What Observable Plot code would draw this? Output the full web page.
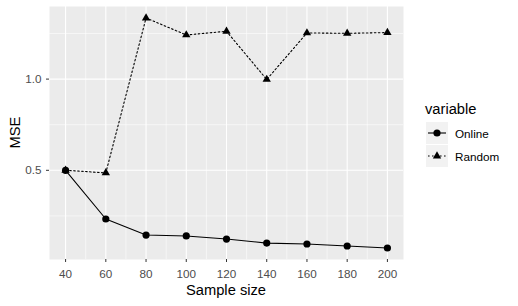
<!DOCTYPE html>
<html>
<head>
<meta charset="utf-8">
<script src="https://cdn.jsdelivr.net/npm/d3@7"></script>
<script src="https://cdn.jsdelivr.net/npm/@observablehq/plot@0.6"></script>
<style>
  html, body { margin: 0; padding: 0; background: #fff; }
  svg { display: block; }
</style>
</head>
<body>
<div id="chart"></div>
<script>
const sampleSizes = [40, 60, 80, 100, 120, 140, 160, 180, 200];
const onlineMSE = [0.500, 0.233, 0.145, 0.140, 0.123, 0.101, 0.096, 0.085, 0.074];
const randomMSE = [0.500, 0.486, 1.335, 1.242, 1.262, 0.998, 1.253, 1.251, 1.255];
const seriesNames = ["Online", "Random"];
const xMajor = [40, 60, 80, 100, 120, 140, 160, 180, 200];
const xMinor = [50, 70, 90, 110, 130, 150, 170, 190];
const yMajor = [0.5, 1.0];
const yMinor = [0.25, 0.75, 1.25];

const online = sampleSizes.map((x, i) => ({x, y: onlineMSE[i], variable: seriesNames[0]}));
const random = sampleSizes.map((x, i) => ({x, y: randomMSE[i], variable: seriesNames[1]}));

const W = 518, H = 306;
const font = "'Liberation Sans', Arial, sans-serif";
const dotR = 3.6, triR = 3.1, dash = "1.6,2.4";

const plot = Plot.plot({
  width: W,
  height: H,
  marginLeft: 49,
  marginRight: 115,
  marginTop: 6,
  marginBottom: 47,
  style: {fontFamily: font, background: "#fff"},
  x: {type: "linear", domain: [32, 208]},
  y: {type: "linear", domain: [0.011, 1.398]},
  marks: [
    Plot.frame({fill: "#EBEBEB", stroke: null}),
    Plot.gridY(yMinor, {stroke: "#fff", strokeWidth: 0.55, strokeOpacity: 1}),
    Plot.gridX(xMinor, {stroke: "#fff", strokeWidth: 0.55, strokeOpacity: 1}),
    Plot.gridY(yMajor, {stroke: "#fff", strokeWidth: 1.1, strokeOpacity: 1}),
    Plot.gridX(xMajor, {stroke: "#fff", strokeWidth: 1.1, strokeOpacity: 1}),
    Plot.axisX(xMajor, {tickSize: 3, tickPadding: 7, stroke: "#333", fill: "#4D4D4D", fontSize: 11.7, label: null}),
    Plot.axisY(yMajor, {tickSize: 3, tickPadding: 5, stroke: "#333", fill: "#4D4D4D", fontSize: 11.7, tickFormat: d3.format(".1f"), label: null}),
    Plot.line(random, {x: "x", y: "y", stroke: "#000", strokeWidth: 1.1, strokeDasharray: dash}),
    Plot.line(online, {x: "x", y: "y", stroke: "#000", strokeWidth: 1.1}),
    Plot.dot(online, {x: "x", y: "y", r: dotR, fill: "#000", stroke: null}),
    Plot.dot(random, {x: "x", y: "y", r: triR, symbol: "triangle", fill: "#000", stroke: null})
  ]
});

document.getElementById("chart").appendChild(plot);

const svg = d3.select(plot);
// axis titles
svg.append("text")
  .attr("x", 226).attr("y", 295)
  .attr("text-anchor", "middle")
  .attr("font-family", font).attr("font-size", 14.7).attr("fill", "#000")
  .text("Sample size");
svg.append("text")
  .attr("transform", "translate(20,132.5) rotate(-90)")
  .attr("text-anchor", "middle")
  .attr("font-family", font).attr("font-size", 14.7).attr("fill", "#000")
  .text("MSE");

// legend
const lg = svg.append("g").attr("text-anchor", "start");
lg.append("text")
  .attr("x", 425).attr("y", 114)
  .attr("text-anchor", "start")
  .attr("font-family", font).attr("font-size", 14.7).attr("fill", "#000")
  .text("variable");
const keyY = [122, 145];
const symbols = [d3.symbolCircle, d3.symbolTriangle];
const symSize = [Math.PI * dotR * dotR, Math.PI * triR * triR];
const dashes = [null, dash];
seriesNames.forEach((name, i) => {
  const y0 = keyY[i];
  lg.append("rect").attr("x", 426).attr("y", y0).attr("width", 22).attr("height", 22).attr("fill", "#F2F2F2");
  lg.append("line")
    .attr("x1", 428).attr("x2", 446).attr("y1", y0 + 11).attr("y2", y0 + 11)
    .attr("stroke", "#000").attr("stroke-width", 1.1)
    .attr("stroke-dasharray", dashes[i]);
  lg.append("path")
    .attr("transform", `translate(437,${y0 + 11})`)
    .attr("d", d3.symbol(symbols[i], symSize[i])())
    .attr("fill", "#000");
  lg.append("text")
    .attr("x", 455).attr("y", y0 + 15.5)
    .attr("text-anchor", "start")
    .attr("font-family", font).attr("font-size", 11.7).attr("fill", "#000")
    .text(name);
});
</script>
</body>
</html>
